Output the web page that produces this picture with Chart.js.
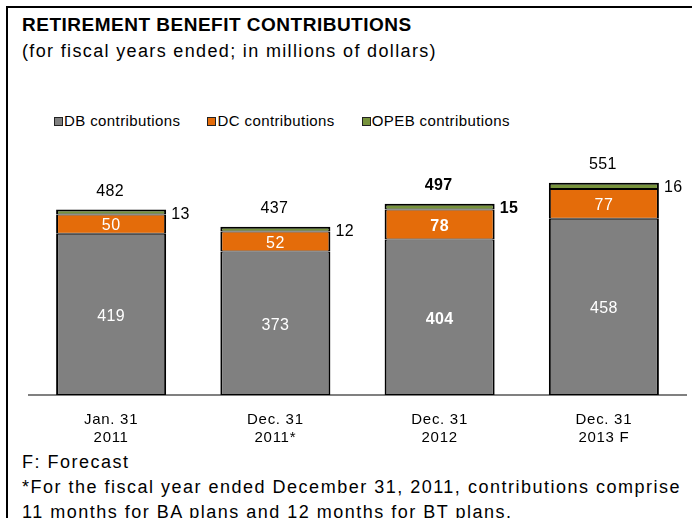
<!DOCTYPE html>
<html>
<head>
<meta charset="utf-8">
<script src="https://cdn.jsdelivr.net/npm/chart.js@4"></script>
<style>
  body { margin: 0; background: #fff; font-family: "Liberation Sans", Arial, sans-serif; color: #000; }
  #page { position: relative; width: 692px; height: 518px; overflow: hidden; }
  #frame { position: absolute; left: 6px; top: 6px; width: 700px; height: 520px;
           border-left: 2px solid #000; border-top: 2px solid #000; }
  #title { position: absolute; left: 22px; top: 14px; font-size: 19px; font-weight: bold; line-height: 22px; letter-spacing: 0.5px; }
  #subtitle { position: absolute; left: 22px; top: 40px; font-size: 18px; line-height: 22px; letter-spacing: 1.35px; }
  #legend { position: absolute; left: 54px; top: 112px; display: flex; gap: 27px; font-size: 15px; line-height: 18px; letter-spacing: 0.4px; }
  #legend span.item { display: flex; align-items: center; }
  #legend span.box { width: 7px; height: 7px; border: 1px solid #222; margin-right: 1px; }
  #chartBox { position: absolute; left: 0; top: 150px; width: 692px; height: 295px; }
  #notes { position: absolute; left: 22px; top: 450px; font-size: 18px; line-height: 25px; letter-spacing: 1.5px; white-space: nowrap; }
</style>
</head>
<body>
<div id="page">
  <div id="frame"></div>
  <div id="title">RETIREMENT BENEFIT CONTRIBUTIONS</div>
  <div id="subtitle">(for fiscal years ended; in millions of dollars)</div>
  <div id="legend"></div>
  <div id="chartBox"><canvas id="contribChart"></canvas></div>
  <div id="notes">
    F: Forecast<br>
    *For the fiscal year ended December 31, 2011, contributions comprise<br>
    11 months for BA plans and 12 months for BT plans.
  </div>
</div>
<script>
// fiscal year ends
const periods = [["Jan. 31", "2011"], ["Dec. 31", "2011*"], ["Dec. 31", "2012"], ["Dec. 31", "2013 F"]];

// contributions, millions of dollars
const dbValues = [419, 373, 404, 458];
const dcValues = [50, 52, 78, 77];
const opebValues = [13, 12, 15, 16];

const seriesNames = ["DB contributions", "DC contributions", "OPEB contributions"];
const seriesColors = ["#808080", "#E46C0A", "#77933C"];

// the 2012 column is printed in bold
const boldIndex = 2;

const totals = dbValues.map((v, i) => v + dcValues[i] + opebValues[i]);

const FONT = '"Liberation Sans", Arial, sans-serif';

// legend
const legendEl = document.getElementById("legend");
seriesNames.forEach((name, i) => {
  const item = document.createElement("span");
  item.className = "item";
  item.innerHTML = `<span class="box" style="background:${seriesColors[i]}"></span>${name}`;
  legendEl.appendChild(item);
});

// slightly wider text spacing on the canvas
const textSpacing = {
  id: "textSpacing",
  beforeDraw(chart) {
    chart.ctx.letterSpacing = "0.7px";
  }
};

// value labels drawn on top of the stacked bars
const barLabels = {
  id: "barLabels",
  afterDatasetsDraw(chart) {
    const ctx = chart.ctx;
    ctx.save();
    ctx.letterSpacing = "0.4px";
    ctx.textBaseline = "middle";
    const font = (i) => `${i === boldIndex ? "bold " : ""}16px ${FONT}`;

    // DB and DC inside the segments
    [0, 1].forEach(ds => {
      const meta = chart.getDatasetMeta(ds);
      meta.data.forEach((bar, i) => {
        ctx.font = font(i);
        ctx.fillStyle = "#fff";
        ctx.textAlign = "center";
        ctx.fillText(chart.data.datasets[ds].data[i], bar.x, (bar.y + bar.base) / 2 + 2);
      });
    });

    // OPEB to the right, totals above
    const top = chart.getDatasetMeta(2);
    top.data.forEach((bar, i) => {
      ctx.font = font(i);
      ctx.fillStyle = "#000";
      ctx.textAlign = "left";
      ctx.fillText(opebValues[i], bar.x + bar.width / 2 + 5, bar.y + 5);
      ctx.textAlign = "center";
      ctx.fillText(totals[i], bar.x - 1, bar.y - 18);
    });
    ctx.restore();
  }
};

const ctx = document.getElementById("contribChart").getContext("2d");
new Chart(ctx, {
  type: "bar",
  data: {
    labels: periods,
    datasets: [dbValues, dcValues, opebValues].map((values, i) => ({
      label: seriesNames[i],
      data: values,
      backgroundColor: seriesColors[i],
      borderColor: "#000",
      borderWidth: { left: 2, right: 2, top: i === 2 ? 2 : 1, bottom: 1 },
      borderSkipped: false,
      barPercentage: 0.67,
      categoryPercentage: 1
    }))
  },
  options: {
    responsive: true,
    maintainAspectRatio: false,
    animation: false,
    layout: { padding: { top: 14, left: 29, right: 6, bottom: 0 } },
    plugins: {
      legend: { display: false },
      tooltip: { enabled: false }
    },
    scales: {
      x: {
        stacked: true,
        grid: { display: true, drawOnChartArea: false, drawTicks: false },
        border: { display: true, color: "#808080", width: 2 },
        ticks: {
          color: "#000",
          font: { family: FONT, size: 15, lineHeight: 1.2 },
          padding: 16,
          maxRotation: 0,
          autoSkip: false
        },
        afterFit: (scale) => { scale.height = 50; }
      },
      y: {
        stacked: true,
        display: false,
        min: 0,
        max: 600
      }
    }
  },
  plugins: [textSpacing, barLabels]
});
</script>
</body>
</html>
